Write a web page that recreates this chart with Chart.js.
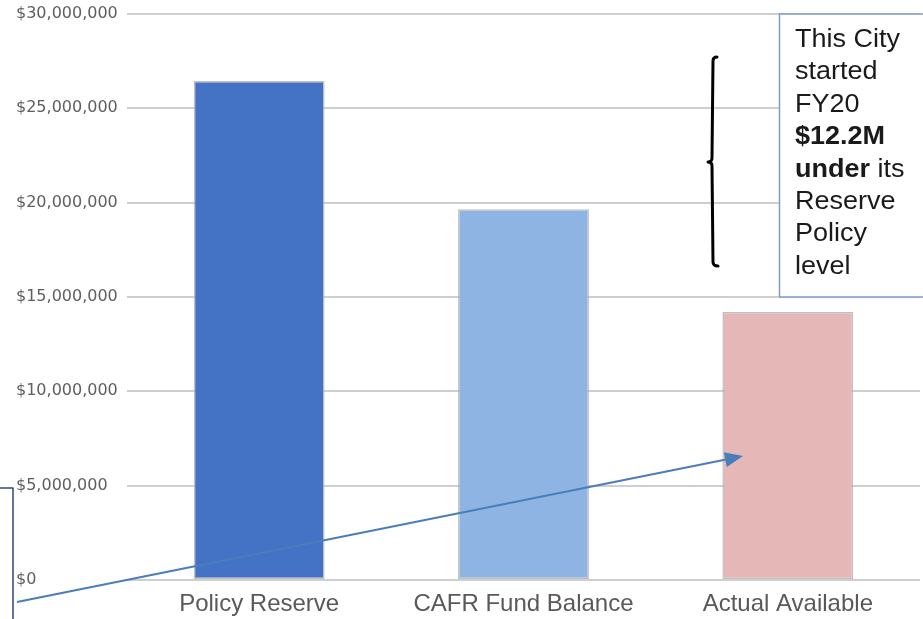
<!DOCTYPE html>
<html><head><meta charset="utf-8">
<script src="https://cdn.jsdelivr.net/npm/chart.js@4"></script>
<style>html,body{margin:0;padding:0;background:#fff;overflow:hidden}canvas{display:block}</style>
</head><body>
<canvas id="c" width="923" height="619"></canvas>
<script>
// ---- data ----
const categories = ['Policy Reserve', 'CAFR Fund Balance', 'Actual Available'];
const reserveValues = [26450000, 19650000, 14200000];
const barColors = ['#4472C4', '#8EB4E3', '#E5B7B6'];
const yTickValues = [0, 5000000, 10000000, 15000000, 20000000, 25000000, 30000000];
const noteLines = [
  [['This City', false]],
  [['started', false]],
  [['FY20', false]],
  [['$12.2M', true]],
  [['under', true], [' its', false]],
  [['Reserve', false]],
  [['Policy', false]],
  [['level', false]]
];

const annotations = {
  id: 'annotations',
  afterDatasetsDraw(chart) {
    const ctx = chart.ctx;
    const y = chart.scales.y;
    ctx.save();
    // note box
    const boxTop = y.getPixelForValue(30000000);
    const boxBot = y.getPixelForValue(15000000);
    ctx.fillStyle = '#fff';
    ctx.fillRect(779.5, boxTop, 150, boxBot - boxTop);
    ctx.strokeStyle = '#7F9CC9';
    ctx.lineWidth = 1.5;
    ctx.strokeRect(779.5, boxTop, 150, boxBot - boxTop);
    // text
    ctx.fillStyle = '#1a1a1a';
    ctx.textBaseline = 'alphabetic';
    ctx.textAlign = 'left';
    noteLines.forEach((parts, i) => {
      let x = 0;
      const by = 47 + i * 32.4;
      ctx.save();
      ctx.translate(795, by);
      ctx.scale(1.08, 1);
      parts.forEach(([t, bold]) => {
        ctx.font = (bold ? 'bold ' : '') + '25px "Liberation Sans", Arial, sans-serif';
        ctx.fillText(t, x, 0);
        x += ctx.measureText(t).width;
      });
      ctx.restore();
    });
    // bracket
    ctx.strokeStyle = '#000';
    ctx.lineWidth = 3;
    ctx.lineCap = 'round';
    ctx.lineJoin = 'round';
    ctx.beginPath();
    ctx.moveTo(717, 57);
    ctx.quadraticCurveTo(713, 57, 713, 61);
    ctx.lineTo(712, 158);
    ctx.quadraticCurveTo(712, 162, 708, 162);
    ctx.quadraticCurveTo(712, 162, 712, 166);
    ctx.lineTo(713, 262);
    ctx.quadraticCurveTo(713, 266, 718, 266);
    ctx.stroke();
    // left box edge
    ctx.strokeStyle = '#2E4A73';
    ctx.lineWidth = 1.5;
    ctx.lineCap = 'butt';
    ctx.beginPath();
    ctx.moveTo(0, 488);
    ctx.lineTo(13, 488);
    ctx.lineTo(13, 620);
    ctx.stroke();
    // arrow
    const x0 = 17, y0 = 602, x1 = 743, y1 = 456;
    const ang = Math.atan2(y1 - y0, x1 - x0);
    const L = 18, W = 7.5;
    const bx = x1 - L * Math.cos(ang), byy = y1 - L * Math.sin(ang);
    ctx.strokeStyle = '#4A7EBB';
    ctx.fillStyle = '#4A7EBB';
    ctx.lineWidth = 2;
    ctx.beginPath();
    ctx.moveTo(x0, y0);
    ctx.lineTo(bx + 2 * Math.cos(ang), byy + 2 * Math.sin(ang));
    ctx.stroke();
    ctx.beginPath();
    ctx.moveTo(x1, y1);
    ctx.lineTo(bx - W * Math.sin(ang), byy + W * Math.cos(ang));
    ctx.lineTo(bx + W * Math.sin(ang), byy - W * Math.cos(ang));
    ctx.closePath();
    ctx.fill();
    ctx.restore();
  }
};

new Chart(document.getElementById('c'), {
  type: 'bar',
  data: {
    labels: categories,
    datasets: [{
      data: reserveValues,
      backgroundColor: barColors,
      borderColor: 'rgba(170,170,170,0.75)',
      borderWidth: 1.5,
      borderSkipped: false,
      categoryPercentage: 1,
      barPercentage: 0.495
    }]
  },
  options: {
    responsive: false,
    devicePixelRatio: 1,
    animation: false,
    events: [],
    layout: { padding: { left: 16, right: 3, top: 0, bottom: 0 } },
    plugins: { legend: { display: false }, tooltip: { enabled: false } },
    scales: {
      x: {
        grid: { display: false, drawTicks: false },
        border: { display: false },
        ticks: {
          color: '#595959',
          padding: 10,
          font: { family: '"Liberation Sans", Arial, sans-serif', size: 24 },
          maxRotation: 0
        },
        afterFit(s) { s.height = 39; }
      },
      y: {
        min: 0, max: 30000000,
        afterBuildTicks(s) { s.ticks = yTickValues.map(v => ({ value: v })); },
        grid: { color: '#CFCFCF', lineWidth: 2, drawTicks: false },
        border: { display: false },
        ticks: {
          color: '#5E5E5E',
          crossAlign: 'far',
          padding: 4.4,
          font: { family: '"DejaVu Sans", Verdana, sans-serif', size: 16 },
          callback: v => '$' + Number(v).toLocaleString('en-US')
        },
        afterFit(s) { s.width = 111; }
      }
    }
  },
  plugins: [annotations]
});
</script>
</body></html>
